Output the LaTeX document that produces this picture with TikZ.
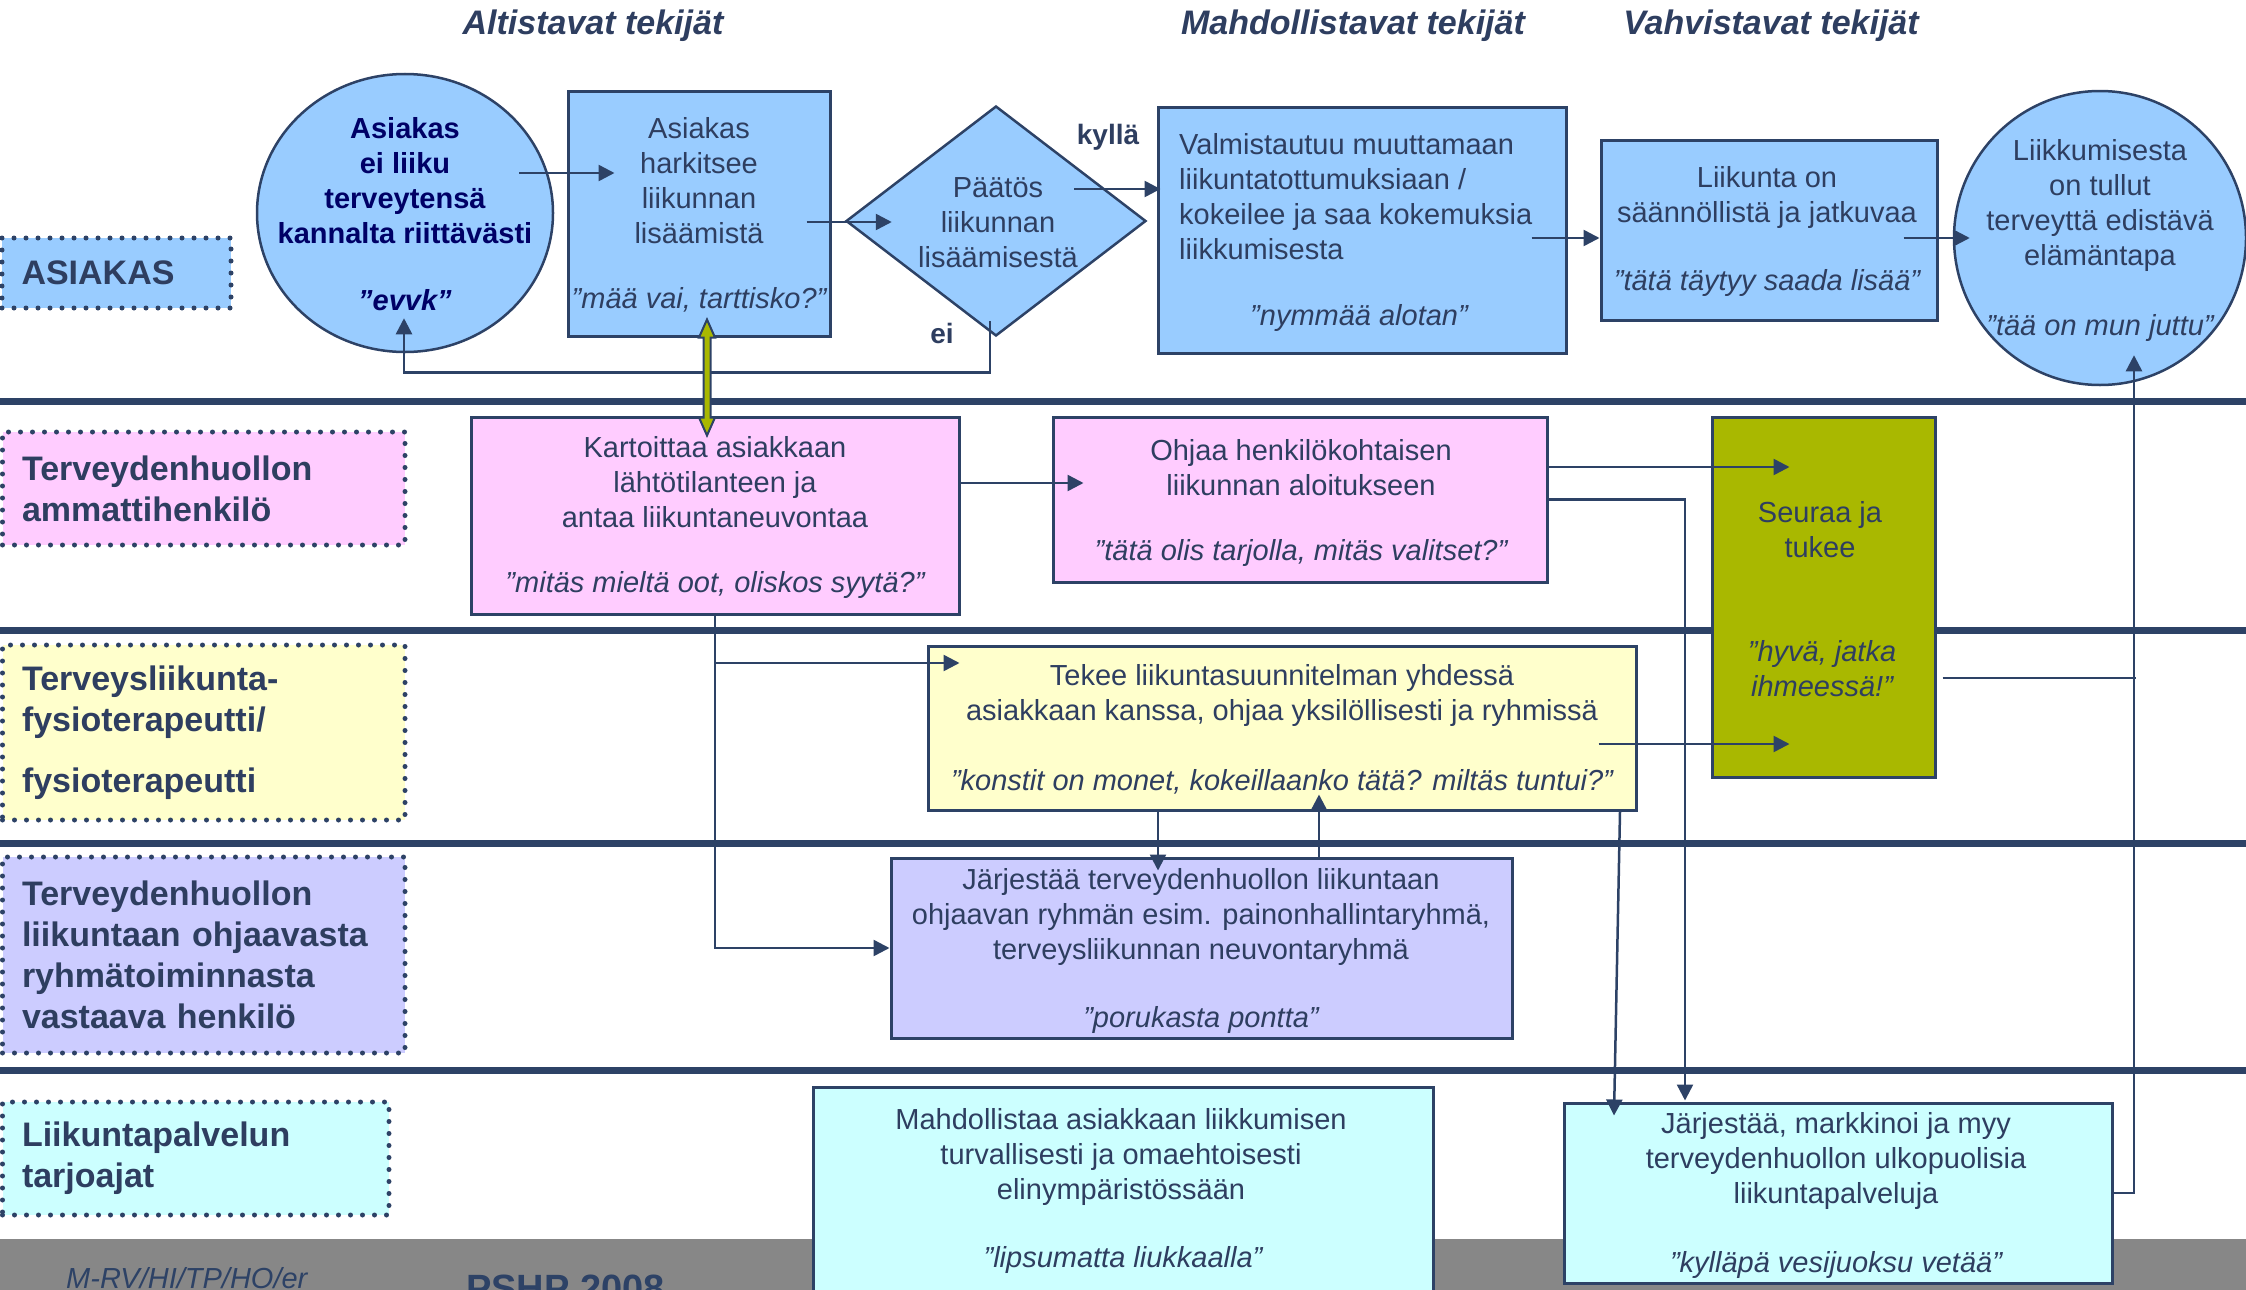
\documentclass[tikz,border=0pt]{standalone}
\usepackage{fontspec}
\setmainfont{Liberation Sans}
\usetikzlibrary{shapes.geometric,arrows.meta,calc}
\definecolor{navy}{RGB}{45,66,102}
\definecolor{txt}{RGB}{46,62,96}
\definecolor{deepnavy}{RGB}{0,0,102}
\definecolor{skyfill}{RGB}{153,204,255}
\definecolor{pinkfill}{RGB}{255,204,255}
\definecolor{yelfill}{RGB}{255,255,204}
\definecolor{lavfill}{RGB}{204,204,255}
\definecolor{cyanfill}{RGB}{204,255,255}
\definecolor{oliveg}{RGB}{169,184,0}
\definecolor{bandgray}{RGB}{135,135,135}
\begin{document}
\begin{tikzpicture}[x=1pt,y=-1pt,
  box/.style={draw=navy, line width=3pt, rectangle, inner sep=0pt},
  oval/.style={draw=navy, line width=2.5pt, ellipse, inner sep=0pt, fill=skyfill},
  body/.style={text=txt, font=\fontsize{29}{35}\selectfont, align=center, inner sep=0pt},
  quote/.style={text=txt, font=\fontsize{29}{35}\selectfont\itshape, align=center, inner sep=0pt},
  lanebox/.style={draw=navy, line width=5pt, dash pattern=on 0pt off 12pt, line cap=round,
     rectangle, inner ysep=0pt, inner xsep=19.5pt, align=left, text=txt,
     font=\fontsize{34}{41}\selectfont\bfseries},
  hdr/.style={text=txt, font=\fontsize{34}{41}\selectfont\bfseries\itshape, inner sep=0pt},
  lbl/.style={text=txt, font=\fontsize{28}{34}\selectfont\bfseries, inner sep=0pt},
  arr/.style={draw=navy, line width=2.5pt, -{Triangle[length=16pt,width=16pt]}},
  conn/.style={draw=navy, line width=2.5pt},
  sepline/.style={draw=navy, line width=7pt}]
\useasboundingbox (0,0) rectangle (2246,1290);

% background band and lane separators
\fill[bandgray] (0,1239) rectangle (2246,1290);
\draw[sepline] (0,401) -- (2246,401);
\draw[sepline] (0,630) -- (2246,630);
\draw[sepline] (0,843) -- (2246,843);
\draw[sepline] (0,1070) -- (2246,1070);

% headers
\node[hdr] (h1) at (593,26) {Altistavat tekijät};
\node[hdr] (h2) at (1353,26) {Mahdollistavat tekijät};
\node[hdr] (h3) at (1771,26) {Vahvistavat tekijät};

% lane labels
\node[lanebox, fill=skyfill, minimum width=229, minimum height=70, text width=190] (l1) at (116.5,273) {ASIAKAS};
\node[lanebox, fill=pinkfill, minimum width=402.5, minimum height=113, text width=363.5] (l2) at (203.75,488.5) {Terveydenhuollon\\ammattihenkilö};
\node[lanebox, fill=yelfill, minimum width=402.5, minimum height=175, text width=363.5] (l3) at (203.75,732.5) {Terveysliikunta-\\fysioterapeutti/\\[20pt]fysioterapeutti};
\node[lanebox, fill=lavfill, minimum width=402.5, minimum height=196, text width=363.5] (l4) at (203.75,955) {Terveydenhuollon\\liikuntaan ohjaavasta\\ryhmätoiminnasta\\vastaava henkilö};
\node[lanebox, fill=cyanfill, minimum width=386.5, minimum height=113, text width=347.5] (l5) at (195.75,1158.5) {Liikuntapalvelun\\tarjoajat};

% shapes
\node[oval, minimum width=296, minimum height=278] (c1) at (405,213) {};
\node[box, fill=skyfill, minimum width=262, minimum height=245] (b2) at (699,213.5) {};
\node[diamond, draw=navy, line width=2.5pt, fill=skyfill, minimum width=300, minimum height=230, inner sep=0pt] (dm) at (996,221) {};
\node[box, fill=skyfill, minimum width=408, minimum height=246] (b3) at (1362,230) {};
\node[box, fill=skyfill, minimum width=336, minimum height=180] (b4) at (1769,230) {};
\node[oval, minimum width=292, minimum height=294] (c2) at (2100,238) {};
\node[box, fill=pinkfill, minimum width=488, minimum height=197] (p1) at (715,515.5) {};
\node[box, fill=pinkfill, minimum width=494, minimum height=165] (p2) at (1300,499.5) {};
\node[box, fill=oliveg, minimum width=223, minimum height=360] (gr) at (1823.5,597) {};
\node[box, fill=yelfill, minimum width=708, minimum height=164] (ye) at (1282,728) {};
\node[box, fill=lavfill, minimum width=621, minimum height=180] (pu) at (1201.5,948) {};
\node[box, fill=cyanfill, minimum width=620, minimum height=213] (cy) at (1123,1193.5) {};
\node[box, fill=cyanfill, minimum width=548, minimum height=180] (jm) at (1838,1193) {};

% connectors
\draw[arr] ($(c1.center)+(114,-40)$) -- ($(b2.west)+(48,-40.5)$);
\draw[arr] ($(b2.east)+(-25,8.5)$) -- ($(dm.west)+(47,1)$);
\draw[arr] ($(dm.center)+(78,-32)$) -- ($(b3.west)+(4,-41)$);
\draw[arr] ($(dm.south)+(-6,-16)$) -- ++(0,51) -| ($(c1.south)+(-1,-35)$);
\draw[arr] ($(b3.east)+(-36,8)$) -- ($(b4.west)+(0,8)$);
\draw[arr] ($(b4.east)+(-35,8)$) -- ($(c2.west)+(17,0)$);
\draw[arr] ($(p1.east)+(0,-32.5)$) -- ($(p2.west)+(32,-16.5)$);
\draw[arr] ($(p2.east)+(0,-32.5)$) -- ($(gr.west)+(79,-130)$);
\draw[arr] (p2.east) -| ($(jm.north)+(-153,-1)$);
\draw[arr] (p1.south) |- ($(ye.west)+(33,-65)$);
\draw[arr] (p1.south) |- (pu.west);
\draw[arr] ($(ye.east)+(-39,16)$) -- ($(gr.west)+(79,147)$);
\draw[arr] ($(ye.south)+(-124,0)$) -- ($(pu.north)+(-43.5,14)$);
\draw[arr] ($(pu.north)+(117.5,0)$) -- ($(ye.south)+(37,-17)$);
\draw[arr] ($(ye.south)+(338,0)$) -- ($(jm.north)+(-224,14)$);
\draw[arr] (jm.east) -| ($(c2.south)+(34,-31)$);
\draw[conn] ($(gr.east)+(6,81)$) -- ++(193,0);

% double arrow between b2 and p1
\coordinate (dt) at ($(b2.south)+(8,-18)$);
\coordinate (db) at ($(p1.north)+(-8,20)$);
\filldraw[fill=oliveg, draw=navy, line width=2pt, line join=miter]
  (dt) -- ($(dt)+(8,18)$) -- ($(dt)+(3.5,18)$) -- ($(db)+(3.5,-18)$) -- ($(db)+(8,-18)$)
  -- (db) -- ($(db)+(-8,-18)$) -- ($(db)+(-3.5,-18)$) -- ($(dt)+(-3.5,18)$) -- ($(dt)+(-8,18)$) -- cycle;

% labels on connectors
\node[lbl] (kylla) at (1108,137) {kyllä};
\node[lbl] (ei) at (942,333) {ei};

% texts
\node[text=deepnavy, font=\fontsize{29}{35}\selectfont\bfseries, align=center, inner sep=0pt] (tc1) at (405,180.5) {Asiakas\\ei liiku\\terveytensä\\kannalta riittävästi};
\node[text=deepnavy, font=\fontsize{29}{35}\selectfont\bfseries\itshape, inner sep=0pt] (qc1) at (405,300) {”evvk”};
\node[body] (tb2) at (699,180.5) {Asiakas\\harkitsee\\liikunnan\\lisäämistä};
\node[quote] (qb2) at (699,300) {”mää vai, tarttisko?”};
\node[body] (tdm) at (998,223) {Päätös\\liikunnan\\lisäämisestä};
\node[body, align=left, anchor=west] (tb3) at (1179,197) {Valmistautuu muuttamaan\\liikuntatottumuksiaan /\\kokeilee ja saa kokemuksia\\liikkumisesta};
\node[quote] (qb3) at (1359,318) {”nymmää alotan”};
\node[body] (tb4) at (1767,197.5) {Liikunta on\\säännöllistä ja jatkuvaa};
\node[quote] (qb4) at (1767,283) {”tätä täytyy saada lisää”};
\node[body] (tc2) at (2100,205.5) {Liikkumisesta\\on tullut\\terveyttä edistävä\\elämäntapa};
\node[quote] (qc2) at (2100,328) {”tää on mun juttu”};
\node[body] (tp1) at (715,482.5) {Kartoittaa asiakkaan\\lähtötilanteen ja\\antaa liikuntaneuvontaa};
\node[quote] (qp1) at (715,585) {”mitäs mieltä oot, oliskos syytä?”};
\node[body] (tp2) at (1301,467.5) {Ohjaa henkilökohtaisen\\liikunnan aloitukseen};
\node[quote] (qp2) at (1301,553) {”tätä olis tarjolla, mitäs valitset?”};
\node[body] (tgr) at (1820,530) {Seuraa ja\\tukee};
\node[quote] (qgr) at (1822,668.5) {”hyvä, jatka\\ihmeessä!”};
\node[body] (tye) at (1282,695.5) {Tekee liikuntasuunnitelman yhdessä\\asiakkaan kanssa, ohjaa yksilöllisesti ja ryhmissä};
\node[quote] (qye) at (1282,782) {”konstit on monet, kokeillaanko tätä? miltäs tuntui?”};
\node[body] (tpu) at (1201,917) {Järjestää terveydenhuollon liikuntaan\\ohjaavan ryhmän esim. painonhallintaryhmä,\\terveysliikunnan neuvontaryhmä};
\node[quote] (qpu) at (1201,1020) {”porukasta pontta”};
\node[body] (tcy) at (1121,1157) {Mahdollistaa asiakkaan liikkumisen\\turvallisesti ja omaehtoisesti\\elinympäristössään};
\node[quote] (qcy) at (1123,1260) {”lipsumatta liukkaalla”};
\node[body] (tjm) at (1836,1161) {Järjestää, markkinoi ja myy\\terveydenhuollon ulkopuolisia\\liikuntapalveluja};
\node[quote] (qjm) at (1836,1265) {”kylläpä vesijuoksu vetää”};

% footer
\node[anchor=base west, text=navy, font=\fontsize{29}{35}\selectfont\itshape, inner sep=0pt] (f1) at (66,1288) {M-RV/HI/TP/HO/er};
\node[anchor=base west, text=navy, font=\fontsize{38}{40}\selectfont\bfseries, inner sep=0pt] (f2) at (466,1301) {PSHP 2008};
\end{tikzpicture}
\end{document}
